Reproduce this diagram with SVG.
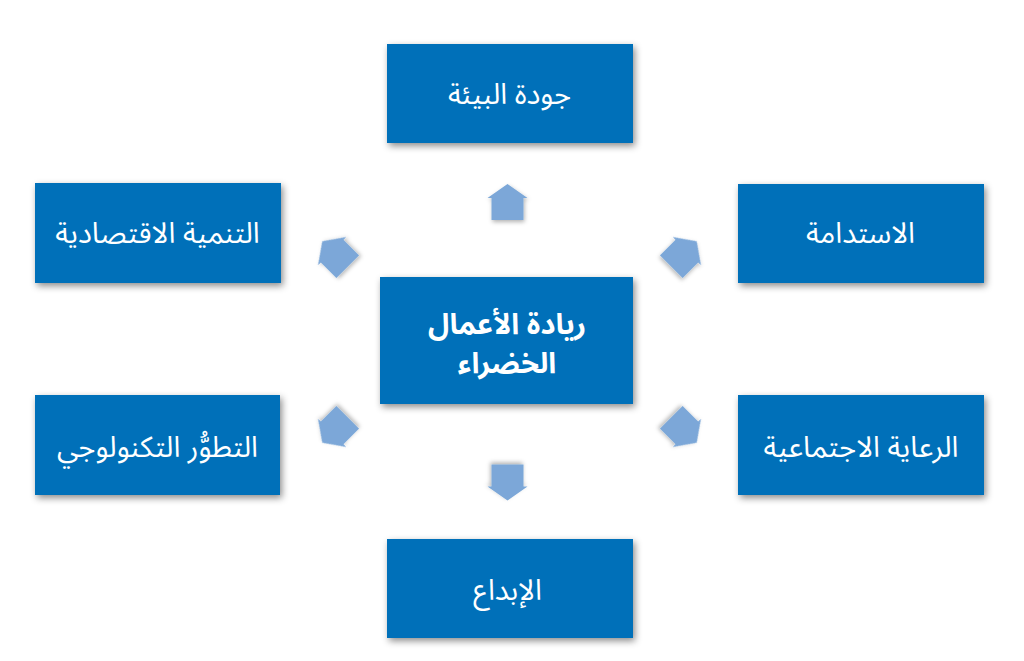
<svg xmlns="http://www.w3.org/2000/svg" width="1024" height="661" viewBox="0 0 1024 661">
  <style>
    .box { fill: #0070B9; filter: url(#shadow); }
    .lbl { fill: #FFFFFF; font-family: "Noto Sans Arabic", "DejaVu Sans", "Noto Sans", sans-serif; font-size: 29px; text-anchor: middle; }
    .main { font-size: 29px; font-weight: bold; }
    .arr { fill: #7BA7D8; filter: url(#ashadow); }
  </style>
  <defs>
    <filter id="shadow" x="-20%" y="-20%" width="140%" height="150%">
      <feDropShadow dx="2" dy="3" stdDeviation="3.5" flood-color="#000000" flood-opacity="0.45"/>
    </filter>
    <filter id="ashadow" x="-40%" y="-40%" width="180%" height="180%">
      <feDropShadow dx="1" dy="2" stdDeviation="2" flood-color="#000000" flood-opacity="0.3"/>
    </filter>
    <path id="arrow" d="M0,-18 L20,-4 L16,-4 L16,18 L-16,18 L-16,-4 L-20,-4 Z"/>
  </defs>
  <rect width="1024" height="661" fill="#FFFFFF"/>

  <g id="connectors">
    <use href="#arrow" class="arr" transform="translate(507.5,202)"/>
    <use href="#arrow" class="arr" transform="translate(507.5,482.5) rotate(180)"/>
    <use href="#arrow" class="arr" transform="translate(335,254) rotate(-45)"/>
    <use href="#arrow" class="arr" transform="translate(684,254) rotate(45)"/>
    <use href="#arrow" class="arr" transform="translate(335,430) rotate(-135)"/>
    <use href="#arrow" class="arr" transform="translate(684,430) rotate(135)"/>
  </g>

  <g id="center">
    <rect class="box" x="380" y="277" width="253" height="127"/>
    <text class="lbl main"><tspan x="507" y="334">ريادة الأعمال</tspan><tspan x="507" y="373">الخضراء</tspan></text>
  </g>
  <g id="top">
    <rect class="box" x="387" y="44" width="246" height="99"/>
    <text class="lbl" x="509.5" y="104">جودة البيئة</text>
  </g>
  <g id="upper-left">
    <rect class="box" x="35" y="183" width="246" height="100"/>
    <text class="lbl" x="157.5" y="243">التنمية الاقتصادية</text>
  </g>
  <g id="upper-right">
    <rect class="box" x="738" y="184" width="246" height="99"/>
    <text class="lbl" x="860.5" y="243">الاستدامة</text>
  </g>
  <g id="lower-left">
    <rect class="box" x="35" y="395" width="245" height="100"/>
    <text class="lbl" x="157.5" y="457">التطوُّر التكنولوجي</text>
  </g>
  <g id="lower-right">
    <rect class="box" x="738" y="395" width="246" height="100"/>
    <text class="lbl" x="861" y="457">الرعاية الاجتماعية</text>
  </g>
  <g id="bottom">
    <rect class="box" x="387" y="539" width="246" height="99"/>
    <text class="lbl" x="507.5" y="600">الإبداع</text>
  </g>
</svg>
